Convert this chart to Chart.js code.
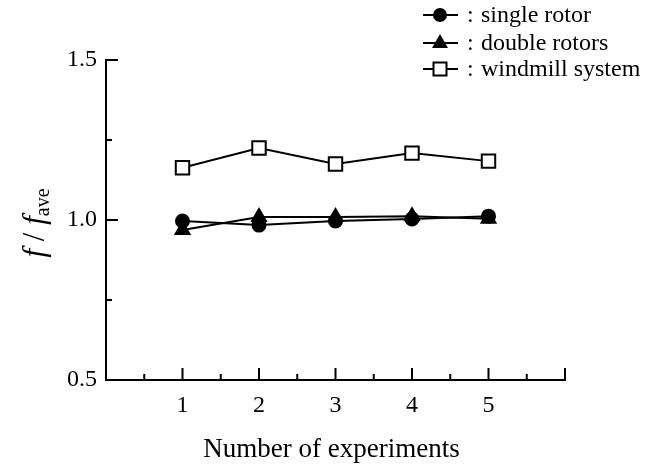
<!DOCTYPE html>
<html lang="en">
<head>
    <meta charset="UTF-8">
    <script src="https://cdn.jsdelivr.net/npm/chart.js"></script>
    <title>f / fave</title>
    <style>
        html, body { margin: 0; padding: 0; background: #fff; }
        #box { width: 659px; height: 470px; }
    </style>
</head>
<body>
    <div id="box"><canvas id="grafico" width="659" height="470"></canvas></div>

<script>
    // dados
    const experimentos = [1, 2, 3, 4, 5];
    const singleRotor = [0.997, 0.984, 0.997, 1.003, 1.012];
    const doubleRotors = [0.969, 1.009, 1.009, 1.012, 1.004];
    const windmill = [1.163, 1.225, 1.175, 1.209, 1.184];
    const yTicks = [0.5, 1.0, 1.5];
    const xTickLabels = ['1', '2', '3', '4', '5'];

    const serif = "'Liberation Serif', 'DejaVu Serif', serif";

    function pontos(valores) {
        return experimentos.map((x, i) => ({ x: x, y: valores[i] }));
    }

    // ticks para dentro + titulos + legenda
    const extras = {
        id: 'extras',
        afterDraw(chart) {
            const ctx = chart.ctx;
            const sx = chart.scales.x, sy = chart.scales.y;
            const area = chart.chartArea;
            ctx.save();
            ctx.strokeStyle = '#000';
            ctx.lineWidth = 2;

            // ticks do eixo x
            for (let v = 0.5; v <= 6; v += 0.5) {
                const px = sx.getPixelForValue(v);
                const len = (v % 1 === 0) ? 12 : 6;
                ctx.beginPath();
                ctx.moveTo(px, area.bottom);
                ctx.lineTo(px, area.bottom - len);
                ctx.stroke();
            }
            // ticks do eixo y
            for (let v = 0.75; v <= 1.5; v += 0.25) {
                const py = sy.getPixelForValue(v);
                const len = (Math.abs(v * 2 - Math.round(v * 2)) < 1e-6) ? 12 : 6;
                ctx.beginPath();
                ctx.moveTo(area.left, py);
                ctx.lineTo(area.left + len, py);
                ctx.stroke();
            }

            // titulo x
            ctx.fillStyle = '#000';
            ctx.font = '27px ' + serif;
            ctx.textAlign = 'center';
            ctx.textBaseline = 'alphabetic';
            ctx.fillText('Number of experiments', (area.left + area.right) / 2 - 4, 457);

            // titulo y : f / f_ave
            ctx.save();
            ctx.translate(44, 223);
            ctx.rotate(-Math.PI / 2);
            const fIt = 'italic 31px ' + serif;
            const fN = '31px ' + serif;
            const fSub = '20px ' + serif;
            const partes = [
                { t: 'f', f: fIt, dy: 0 },
                { t: ' / ', f: fN, dy: 0 },
                { t: 'f', f: fIt, dy: 0 },
                { t: 'ave', f: fSub, dy: 5 }
            ];
            let total = 0;
            partes.forEach(p => { ctx.font = p.f; p.w = ctx.measureText(p.t).width; total += p.w; });
            let cx = -total / 2;
            ctx.textAlign = 'left';
            partes.forEach(p => {
                ctx.font = p.f;
                ctx.fillText(p.t, cx, p.dy);
                cx += p.w;
            });
            ctx.restore();

            // legenda
            const itens = [
                { nome: 'single rotor', tipo: 'circle', y: 15 },
                { nome: 'double rotors', tipo: 'triangle', y: 43 },
                { nome: 'windmill system', tipo: 'rect', y: 69 }
            ];
            itens.forEach(it => {
                ctx.lineWidth = 2;
                ctx.strokeStyle = '#000';
                ctx.beginPath();
                ctx.moveTo(423, it.y);
                ctx.lineTo(458, it.y);
                ctx.stroke();
                const mx = 440;
                ctx.beginPath();
                if (it.tipo === 'circle') {
                    ctx.arc(mx, it.y, 7, 0, Math.PI * 2);
                    ctx.fillStyle = '#000';
                    ctx.fill();
                } else if (it.tipo === 'triangle') {
                    ctx.moveTo(mx, it.y - 9);
                    ctx.lineTo(mx + 8, it.y + 5);
                    ctx.lineTo(mx - 8, it.y + 5);
                    ctx.closePath();
                    ctx.fillStyle = '#000';
                    ctx.fill();
                } else {
                    ctx.rect(mx - 6.5, it.y - 6.5, 13, 13);
                    ctx.fillStyle = '#fff';
                    ctx.fill();
                    ctx.stroke();
                }
                ctx.fillStyle = '#000';
                ctx.font = '24px ' + serif;
                ctx.textAlign = 'left';
                ctx.textBaseline = 'middle';
                ctx.fillText(':', 467, it.y + 1);
                ctx.fillText(it.nome, 481, it.y + 1);
            });
            ctx.restore();
        }
    };

    const ctx = document.getElementById('grafico').getContext('2d');
    const chart = new Chart(ctx, {
        type: 'line',
        data: {
            datasets: [
                {
                    label: 'windmill system',
                    data: pontos(windmill),
                    borderColor: '#000',
                    borderWidth: 2,
                    pointStyle: 'rect',
                    pointRadius: 9.5,
                    pointBorderWidth: 2,
                    pointBackgroundColor: '#fff',
                    pointBorderColor: '#000',
                    tension: 0
                },
                {
                    label: 'single rotor',
                    data: pontos(singleRotor),
                    borderColor: '#000',
                    borderWidth: 2,
                    pointStyle: 'circle',
                    pointRadius: 6.5,
                    pointBackgroundColor: '#000',
                    pointBorderColor: '#000',
                    tension: 0
                },
                {
                    label: 'double rotors',
                    data: pontos(doubleRotors),
                    borderColor: '#000',
                    borderWidth: 2,
                    pointStyle: 'triangle',
                    pointRadius: 8,
                    pointBackgroundColor: '#000',
                    pointBorderColor: '#000',
                    tension: 0
                }
            ]
        },
        options: {
            responsive: false,
            animation: false,
            layout: { padding: { top: 60, right: 94, left: 0, bottom: 0 } },
            scales: {
                x: {
                    type: 'linear',
                    min: 0,
                    max: 6,
                    afterFit: s => { s.height = 90; },
                    afterBuildTicks: s => { s.ticks = experimentos.map(v => ({ value: v })); },
                    grid: { display: false, drawTicks: false },
                    border: { display: true, color: '#000', width: 2 },
                    ticks: {
                        color: '#000',
                        font: { family: serif, size: 24 },
                        padding: 11,
                        maxRotation: 0,
                        callback: (v, i) => xTickLabels[i]
                    }
                },
                y: {
                    min: 0.5,
                    max: 1.5,
                    afterFit: s => { s.width = 106; },
                    afterBuildTicks: s => { s.ticks = yTicks.map(v => ({ value: v })); },
                    grid: { display: false, drawTicks: false },
                    border: { display: true, color: '#000', width: 2 },
                    ticks: {
                        color: '#000',
                        font: { family: serif, size: 24 },
                        padding: 9,
                        callback: v => v.toFixed(1)
                    }
                }
            },
            plugins: {
                legend: { display: false },
                tooltip: { enabled: false }
            }
        },
        plugins: [extras]
    });
</script>
</body>
</html>
